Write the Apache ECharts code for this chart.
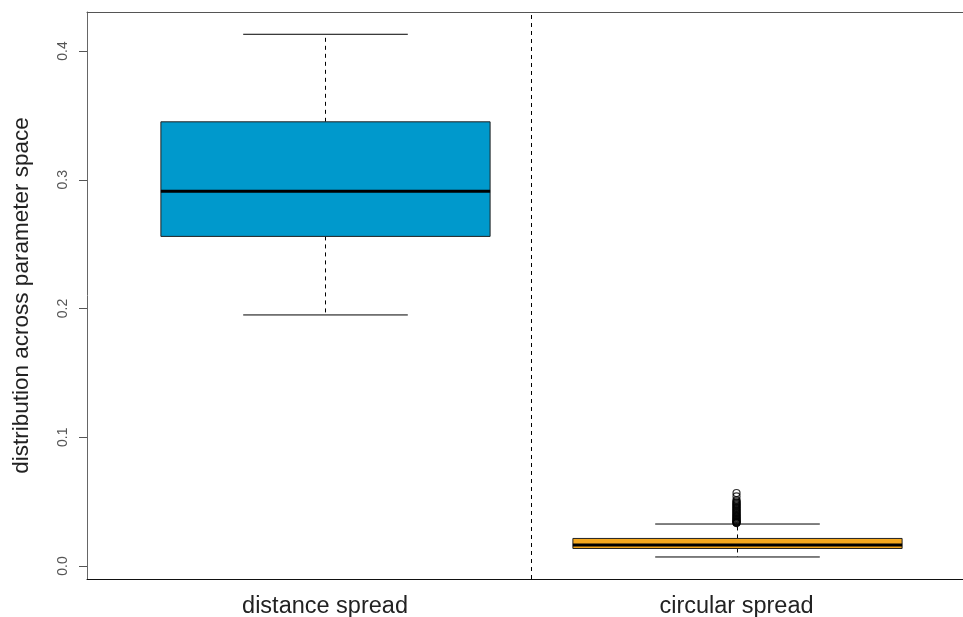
<!DOCTYPE html>
<html>
<head>
<meta charset="utf-8">
<script src="https://cdn.jsdelivr.net/npm/echarts@6/dist/echarts.min.js"></script>
<style>
html, body { margin: 0; padding: 0; background: #fff; }
#chart { width: 963px; height: 617px; }
</style>
</head>
<body>
<div id="chart"></div>
<script>
// groups
var groupNames = ['distance spread', 'circular spread'];
var groupPos = [1, 2];
// lower whisker, Q1, median, Q3, upper whisker
var distanceStats = [0.195, 0.256, 0.291, 0.345, 0.413];
var circularStats = [0.0070, 0.0136, 0.0163, 0.0214, 0.0326];
// outliers of circular spread
var circularOutliers = [0.0567, 0.0540, 0.0512, 0.0503, 0.0494, 0.0486, 0.0479, 0.0471,
    0.0464, 0.0455, 0.0449, 0.0441, 0.0433, 0.0426, 0.0418, 0.0411, 0.0404, 0.0396,
    0.0390, 0.0383, 0.0377, 0.0370, 0.0364, 0.0358, 0.0352, 0.0347, 0.0343, 0.0339,
    0.0336, 0.0333];
var yTicks = [0, 0.1, 0.2, 0.3, 0.4];
var boxColors = ['#0099cc', '#f5a81e'];

var chart = echarts.init(document.getElementById('chart'));

// R style box: dashed whiskers, half width staples, thick median
function renderBox(params, api) {
    var x = api.value(0);
    var lo = api.coord([x, api.value(1)]);
    var q1 = api.coord([x, api.value(2)]);
    var med = api.coord([x, api.value(3)]);
    var q3 = api.coord([x, api.value(4)]);
    var hi = api.coord([x, api.value(5)]);
    var boxW = api.size([0.8, 0])[0];
    var capW = api.size([0.4, 0])[0];
    var cx = Math.round(lo[0]) + 0.5;
    var dash = {stroke: '#000', lineWidth: 1, lineDash: [4, 4]};
    var solid = {stroke: '#000', lineWidth: 1};
    return {
        type: 'group',
        children: [
            {type: 'line', shape: {x1: cx, y1: q3[1], x2: cx, y2: hi[1]}, style: dash},
            {type: 'line', shape: {x1: cx, y1: q1[1], x2: cx, y2: lo[1]}, style: dash},
            {type: 'line', shape: {x1: cx - capW / 2, y1: hi[1], x2: cx + capW / 2, y2: hi[1]}, style: solid},
            {type: 'line', shape: {x1: cx - capW / 2, y1: lo[1], x2: cx + capW / 2, y2: lo[1]}, style: solid},
            {type: 'rect', shape: {x: cx - boxW / 2, y: q3[1], width: boxW, height: q1[1] - q3[1]},
                style: {fill: boxColors[params.dataIndex], stroke: '#222', lineWidth: 1}},
            {type: 'line', shape: {x1: cx - boxW / 2, y1: med[1], x2: cx + boxW / 2, y2: med[1]},
                style: {stroke: '#000', lineWidth: 3}}
        ]
    };
}

var option = {
    animation: false,
    grid: {
        left: 87,
        top: 12,
        bottom: 38,
        right: 0,
        outerBoundsMode: 'none'
    },
    xAxis: [
        {
            type: 'value',
            min: 0.4216,
            max: 2.5504,
            splitLine: {show: false},
            axisLine: {show: true, onZero: false, lineStyle: {color: '#111', width: 1}},
            axisTick: {show: false},
            axisLabel: {
                customValues: groupPos,
                formatter: function (v) { return groupNames[Math.round(v) - 1]; },
                fontFamily: 'Liberation Sans',
                fontSize: 23.5,
                color: '#222',
                margin: 16
            }
        },
        {
            // top frame line
            type: 'value',
            position: 'top',
            min: 0.4216,
            max: 2.5504,
            splitLine: {show: false},
            axisLine: {show: true, onZero: false, lineStyle: {color: '#555', width: 1}},
            axisTick: {show: false},
            axisLabel: {show: false}
        }
    ],
    yAxis: {
        type: 'value',
        min: -0.0101,
        max: 0.4303,
        name: 'distribution across parameter space',
        nameLocation: 'middle',
        nameGap: 54,
        nameTextStyle: {fontFamily: 'Liberation Sans', fontSize: 22.5, color: '#222'},
        splitLine: {show: false},
        axisLine: {show: true, onZero: false, lineStyle: {color: '#666', width: 1}},
        axisTick: {
            show: true,
            length: 8,
            customValues: yTicks,
            lineStyle: {color: '#555'}
        },
        axisLabel: {
            customValues: yTicks,
            rotate: 90,
            formatter: function (v) { return v.toFixed(1); },
            fontFamily: 'Liberation Sans',
            fontSize: 14,
            color: '#555',
            margin: 17
        }
    },
    series: [
        {
            type: 'custom',
            renderItem: renderBox,
            encode: {x: 0, y: [1, 2, 3, 4, 5]},
            data: [[groupPos[0]].concat(distanceStats), [groupPos[1]].concat(circularStats)],
            z: 2,
            markLine: {
                silent: true,
                symbol: 'none',
                label: {show: false},
                lineStyle: {color: '#000', width: 1, type: [4, 4]},
                data: [{xAxis: 1.5}]
            }
        },
        {
            type: 'scatter',
            symbol: 'circle',
            symbolSize: 7,
            itemStyle: {color: 'rgba(0,0,0,0)', borderColor: '#000', borderWidth: 1.2},
            data: circularOutliers.map(function (v) { return [groupPos[1], v]; }),
            z: 3
        }
    ]
};

chart.setOption(option);
</script>
</body>
</html>
